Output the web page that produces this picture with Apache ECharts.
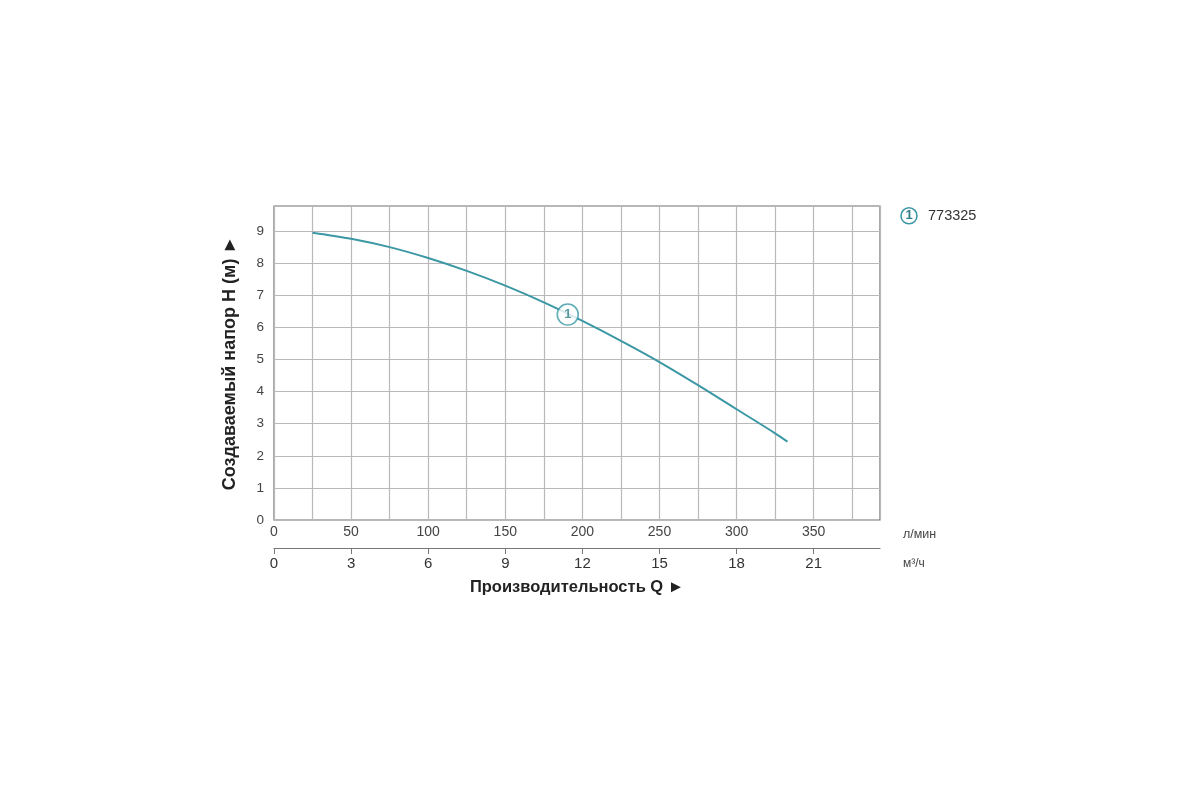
<!DOCTYPE html>
<html>
<head>
<meta charset="utf-8">
<script src="https://cdn.jsdelivr.net/npm/echarts@6/dist/echarts.min.js"></script>
<style>html,body{margin:0;padding:0;background:#fff}#c{width:1200px;height:800px}</style>
</head>
<body>
<div id="c"></div>
<script>
// Flow (l/min) and head (m)
const flowLpm = [25, 50, 75, 100, 125, 150, 175, 200, 225, 250, 275, 300, 325, 333];
const headM   = [8.95, 8.76, 8.5, 8.16, 7.76, 7.3, 6.78, 6.2, 5.58, 4.92, 4.2, 3.45, 2.7, 2.44];
// Curve label marker position
const markerFlow = [190.5];
const markerHead = [6.4];
const markerText = ['1'];
// Tick labels
const lpmTicks = [0, 50, 100, 150, 200, 250, 300, 350];
const m3hTicks = [0, 3, 6, 9, 12, 15, 18, 21];
const headTicks = [0, 1, 2, 3, 4, 5, 6, 7, 8, 9];
const seriesName = '773325';

const teal = '#3b98a4';
const xMax = 393;
const chart = echarts.init(document.getElementById('c'));
chart.setOption({
  backgroundColor: '#fff',
  animation: false,
  textStyle: { fontFamily: 'Liberation Sans, Arial, sans-serif' },
  grid: { left: 274, right: 320, top: 206, bottom: 280, show: true, borderColor: '#6e6e6e', borderWidth: 1.2 },
  legend: {
    data: [seriesName], left: 891, top: 202, icon: 'none', itemWidth: 0, itemGap: 0,
    formatter: '{c|1}{t|' + seriesName + '}',
    textStyle: {
      rich: {
        c: { width: 16, height: 16, lineHeight: 16, borderRadius: 9, borderColor: teal, borderWidth: 1.6, align: 'center', color: '#2f7f89', fontWeight: 'bold', fontSize: 13 },
        t: { color: '#333', fontSize: 14.5, padding: [0, 0, 0, 11] }
      }
    }
  },
  xAxis: [
    {
      type: 'value', min: 0, max: xMax, interval: 25, position: 'bottom',
      name: 'л/мин', nameLocation: 'end', nameGap: 23,
      nameTextStyle: { color: '#444', fontSize: 12.5, verticalAlign: 'top', padding: [8, 0, 0, 0] },
      axisLine: { show: false }, axisTick: { show: false },
      axisLabel: { color: '#444', fontSize: 14, margin: 5,
        formatter: v => lpmTicks.includes(v) ? String(v) : '' },
      splitLine: { show: true, lineStyle: { color: '#b9b9b9', width: 1.2 } }
    },
    {
      type: 'value', min: 0, max: xMax * 0.06, position: 'bottom', offset: 28,
      name: 'м³/ч', nameLocation: 'end', nameGap: 23,
      nameTextStyle: { color: '#444', fontSize: 12, verticalAlign: 'top', padding: [10, 0, 0, 0] },
      axisLine: { show: true, onZero: false, lineStyle: { color: '#777', width: 1.2 } },
      axisTick: { show: true, length: 6, inside: false, customValues: m3hTicks, lineStyle: { color: '#777' } },
      axisLabel: { color: '#333', fontSize: 15, margin: 8, customValues: m3hTicks },
      splitLine: { show: false }
    },
    {
      type: 'value', min: 0, max: xMax * 0.06, position: 'bottom', offset: 28,
      name: 'Производительность Q ►', nameLocation: 'middle', nameGap: 31,
      nameTextStyle: { color: '#222', fontSize: 16.5, fontWeight: 'bold' },
      axisLine: { show: false }, axisTick: { show: false }, axisLabel: { show: false }, splitLine: { show: false }
    }
  ],
  yAxis: {
    type: 'value', min: 0, max: 9.78, interval: 1,
    name: 'Создаваемый напор H (м) ►', nameLocation: 'middle', nameGap: 35,
    nameTextStyle: { color: '#222', fontSize: 18, fontWeight: 'bold' },
    axisLine: { show: false }, axisTick: { show: false },
    axisLabel: { color: '#444', fontSize: 13.5, margin: 10,
      formatter: v => headTicks.includes(v) ? String(v) : '' },
    splitLine: { show: true, lineStyle: { color: '#b9b9b9', width: 1.2 } }
  },
  series: [
    {
      name: seriesName, type: 'line', xAxisIndex: 0, smooth: 0.3, showSymbol: false,
      lineStyle: { color: teal, width: 2 }, itemStyle: { color: teal },
      data: flowLpm.map((f, i) => [f, headM[i]]), z: 3
    },
    {
      type: 'scatter', xAxisIndex: 0, symbol: 'circle', symbolSize: 21, z: 5,
      itemStyle: { color: '#fff', borderColor: teal, borderWidth: 1.6 },
      label: { show: true, position: 'inside', color: '#2f7f89', fontWeight: 'bold', fontSize: 13,
        formatter: p => markerText[p.dataIndex] },
      data: markerFlow.map((f, i) => [f, markerHead[i]])
    }
  ]
});
</script>
</body>
</html>
